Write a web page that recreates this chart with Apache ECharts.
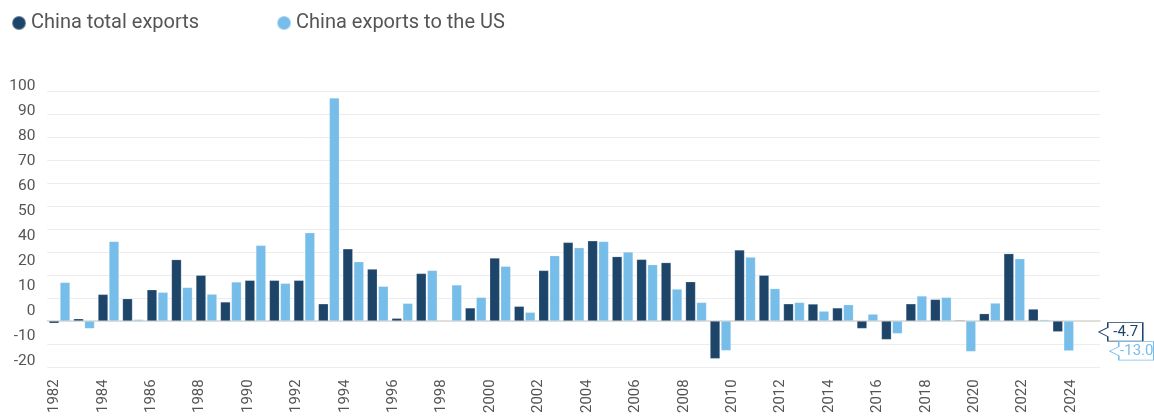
<!DOCTYPE html>
<html>
<head>
<meta charset="utf-8">
<script src="https://cdn.jsdelivr.net/npm/echarts@6/dist/echarts.min.js"></script>
<style>
  html, body { margin: 0; padding: 0; background: #fff; }
  #chart { width: 1154px; height: 416px; }
</style>
</head>
<body>
<div id="chart"></div>
<script>
// annual growth, % y/y
const years = ['1982', '1983', '1984', '1985', '1986', '1987', '1988', '1989', '1990', '1991',
  '1992', '1993', '1994', '1995', '1996', '1997', '1998', '1999', '2000', '2001',
  '2002', '2003', '2004', '2005', '2006', '2007', '2008', '2009', '2010', '2011',
  '2012', '2013', '2014', '2015', '2016', '2017', '2018', '2019', '2020', '2021',
  '2022', '2023'];
const totalExports = [-1.0, 1.0, 11.6, 9.7, 13.6, 26.7, 19.9, 8.3, 17.7, 17.7,
  17.7, 7.5, 31.4, 22.6, 1.2, 20.7, 0.3, 5.7, 27.4, 6.4,
  22.0, 34.2, 34.9, 28.0, 26.8, 25.4, 17.1, -16.4, 30.9, 19.9,
  7.5, 7.4, 5.7, -3.3, -8.1, 7.5, 9.4, 0.4, 3.2, 29.3,
  5.2, -4.7];
const usExports = [16.8, -3.3, 34.6, 0.7, 12.5, 14.6, 11.7, 17.0, 32.9, 16.4,
  38.4, 97.0, 25.8, 15.1, 7.7, 22.0, 15.7, 10.3, 23.8, 3.8,
  28.4, 31.9, 34.6, 30.0, 24.5, 13.9, 8.1, -12.9, 27.8, 14.1,
  8.1, 4.3, 7.1, 3.0, -5.5, 10.9, 10.3, -13.3, 7.8, 27.1,
  0.6, -13.0];
// tick labels as printed on the source (no "30")
const yTickLabels = ['-20', '-10', '0', '10', '20', '40', '50', '60', '70', '80', '90', '100'];
const xLabelFirst = 1982;
const xLabelLast = 2024;

const DARK = '#1d4469';
const LIGHT = '#76bde9';
const TEXT = '#555555';
const FONT = 'Roboto';

const chart = echarts.init(document.getElementById('chart'));

function endTag(value, color) {
  return {
    silent: true,
    symbol: 'path://M0,9.5L9,5L9,0L44,0L44,18.5L9,18.5L9,14Z',
    symbolSize: [44, 18.5],
    symbolKeepAspect: false,
    symbolOffset: [63, 0],
    itemStyle: { color: '#fff', borderColor: color, borderWidth: 1 },
    label: {
      show: true,
      position: 'inside',
      offset: [5, 0],
      color: color,
      fontFamily: FONT,
      fontSize: 15,
      formatter: () => value.toFixed(1)
    },
    data: [{ coord: [years[years.length - 1], value] }]
  };
}

const option = {
  animation: false,
  legend: {
    left: 11,
    top: 13,
    padding: 0,
    icon: 'circle',
    itemWidth: 14,
    itemHeight: 14,
    itemGap: 77,
    textStyle: { color: TEXT, fontFamily: FONT, fontSize: 20 },
    data: ['China total exports', 'China exports to the US']
  },
  grid: [
    // plot area
    { left: 47.3, right: 54, top: 91, bottom: 49 },
    // label placement
    { left: 54.5, right: 83, top: 86, bottom: 52.7 }
  ],
  xAxis: [
    {
      type: 'category',
      gridIndex: 0,
      data: years.concat(['']),
      axisLine: { lineStyle: { color: '#d9d6d2', width: 1.5 } },
      axisTick: { show: false },
      axisLabel: { show: false }
    },
    {
      type: 'value',
      gridIndex: 1,
      min: xLabelFirst,
      max: xLabelLast,
      interval: 2,
      offset: 14,
      splitLine: { show: false },
      axisLine: { show: false },
      axisTick: { show: false },
      axisLabel: {
        rotate: 90,
        margin: 4,
        color: TEXT,
        fontFamily: FONT,
        fontSize: 15,
        formatter: v => String(v)
      }
    }
  ],
  yAxis: [
    {
      type: 'value',
      gridIndex: 0,
      min: -20,
      max: 100,
      interval: 10,
      axisLabel: { show: false },
      axisLine: { show: false },
      axisTick: { show: false },
      splitLine: { lineStyle: { color: '#ececec', width: 1 } }
    },
    {
      type: 'category',
      gridIndex: 1,
      data: yTickLabels,
      boundaryGap: false,
      axisLine: { show: false },
      axisTick: { show: false },
      splitLine: { show: false },
      axisLabel: {
        margin: 19,
        color: TEXT,
        fontFamily: FONT,
        fontSize: 15.5
      }
    }
  ],
  series: [
    {
      name: 'China total exports',
      type: 'bar',
      xAxisIndex: 0,
      yAxisIndex: 0,
      data: totalExports,
      barWidth: 10,
      barGap: '10%',
      itemStyle: { color: DARK, borderColor: 'rgba(255,255,255,0.35)', borderWidth: 0.6 },
      markPoint: endTag(totalExports[totalExports.length - 1], DARK)
    },
    {
      name: 'China exports to the US',
      type: 'bar',
      xAxisIndex: 0,
      yAxisIndex: 0,
      data: usExports,
      barWidth: 10,
      itemStyle: { color: LIGHT, borderColor: 'rgba(255,255,255,0.35)', borderWidth: 0.6 },
      markPoint: endTag(usExports[usExports.length - 1], LIGHT)
    }
  ]
};

chart.setOption(option);
</script>
</body>
</html>
